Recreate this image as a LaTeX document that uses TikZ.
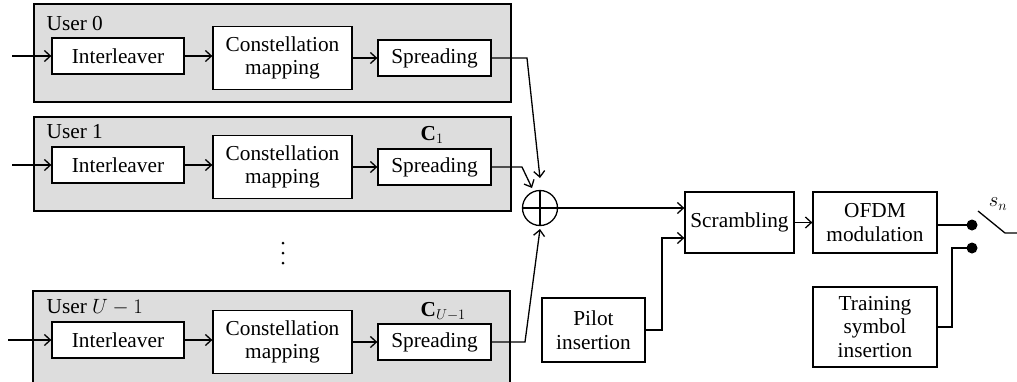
\documentclass[tikz,border=0pt]{standalone}
\usepackage{fontspec}
\setmainfont{Liberation Serif}
\usetikzlibrary{arrows.meta,calc}
\definecolor{userfill}{RGB}{221,221,221}

\begin{document}
\begin{tikzpicture}[x=1bp,y=-1bp,
  font=\fontsize{21.3bp}{23.5bp}\selectfont,
  line width=1.3bp,
  blk/.style={draw, fill=white, align=center, inner sep=0pt},
  userbox/.style={draw, fill=userfill},
  lbl/.style={anchor=base west, inner sep=0pt},
  arr/.style={-{Straight Barb[length=6bp,width=11bp]}},
  jdot/.style={circle, fill, inner sep=0pt, minimum size=11bp}]
\useasboundingbox (0,0) rectangle (1017,381);

% user groups
\draw[userbox] (34,4) rectangle (511,102);
\draw[userbox] (34,117) rectangle (511,211);
\draw[userbox] (33,291) rectangle (510,390);

\node[lbl] (u0) at (46,30) {User 0};
\node[lbl] (u1) at (46,138) {User 1};
\node[lbl] (u2) at (46,313) {User $U-1$};
\node[lbl] (c1) at (420,140) {$\mathbf{C}_1$};
\node[lbl] (c2) at (420,316) {$\mathbf{C}_{U-1}$};

% per-user chains
\foreach \r/\y/\xin in {0/58/12, 1/167/12, 2/342/8} {
  \node[blk, minimum width=132bp, minimum height=36bp] (il\r) at (118,\y-2) {Interleaver};
  \node[blk, minimum width=139bp, minimum height=63bp] (cm\r) at (282.5,\y) {Constellation\\mapping};
  \node[blk, minimum width=113bp, minimum height=36bp] (sp\r) at (434.5,\y) {Spreading};
  \coordinate (in\r) at (\xin,\y-2);
  \draw[arr] (in\r) -- (il\r.west);
  \draw[arr] (il\r.east) -- (il\r.east -| cm\r.west);
  \draw[arr] (cm\r.east) -- (sp\r.west);
}

% vertical ellipsis between users
\fill (283,243) circle (1.5bp);
\fill (283,253) circle (1.5bp);
\fill (283,263) circle (1.5bp);

% adder
\node[draw, circle, minimum size=35bp, inner sep=0pt] (sum) at (540,208) {};
\draw (sum.north) -- (sum.south);
\draw (sum.west) -- (sum.east);

\coordinate (k0) at (527,58);  \coordinate (t0) at (540,178);
\coordinate (k1) at (522,167); \coordinate (t1) at (532,188);
\coordinate (k2) at (525,342); \coordinate (t2) at (540,229);
\draw[arr] (sp0.east) -- (k0) -- (t0);
\draw[arr] (sp1.east) -- (k1) -- (t1);
\draw[arr] (sp2.east) -- (k2) -- (t2);

% transmitter back end
\node[blk, minimum width=109bp, minimum height=61bp] (scr) at (739.5,222.5) {Scrambling};
\node[blk, minimum width=103bp, minimum height=64bp] (pil) at (593.5,330) {Pilot\\insertion};
\node[blk, minimum width=124bp, minimum height=61bp] (ofdm) at (875,222.5) {OFDM\\modulation};
\node[blk, minimum width=124bp, minimum height=80bp] (trn) at (875,327) {Training\\symbol\\insertion};

\draw[arr] (sum.east) -- (sum.east -| scr.west);
\coordinate (pj) at (662,238);
\draw[arr] (pil.east) -| (pj) -- (pj -| scr.west);
\draw[arr] (scr.east) -- (ofdm.west);

% output switch
\node[jdot] (d1) at (972,225) {};
\node[jdot] (d2) at (972,248) {};
\coordinate (tj) at (952,248);
\draw (ofdm.east |- d1) -- (d1.center);
\draw (trn.east) -| (tj) -- (d2.center);
\coordinate (sw1) at (978,211);
\coordinate (sw2) at (1005,233);
\coordinate (out) at (1017,233);
\draw (sw1) -- (sw2) -- (out);
\node (sn) at (998,204) {$s_n$};
\end{tikzpicture}
\end{document}
